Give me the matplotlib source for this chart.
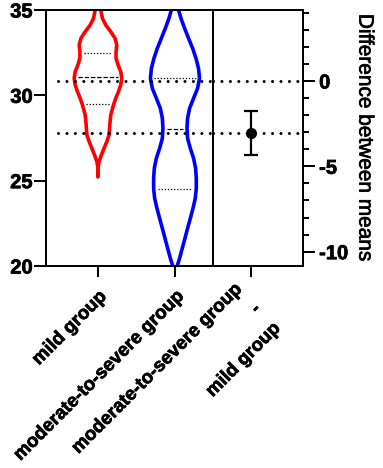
import numpy as np
import matplotlib.pyplot as plt
import matplotlib.patheffects as pe
from matplotlib.ticker import MultipleLocator

plt.rcParams['font.family'] = ['Liberation Sans', 'DejaVu Sans']
plt.rcParams['font.weight'] = 'bold'
plt.rcParams['font.size'] = 14.5
plt.rcParams['axes.unicode_minus'] = False

groups = ['mild group', 'moderate-to-severe group']
diff_label = 'moderate-to-severe group\n-\nmild group'
colors = ['#ff0000', '#0000ff']

# violin outlines: value and half width (category units)
mild_y = [35.00, 34.51, 34.12, 33.73, 33.34, 32.95, 32.56, 32.17, 31.78, 31.39,
          31.00, 30.61, 30.21, 29.83, 29.43, 28.85, 28.26, 27.68, 27.28, 26.90,
          26.51, 26.11, 25.73, 25.23]
mild_half = [0.036, 0.058, 0.101, 0.166, 0.222, 0.244, 0.235, 0.235, 0.261, 0.296,
             0.309, 0.296, 0.266, 0.231, 0.201, 0.166, 0.153, 0.144, 0.114, 0.079,
             0.045, 0.014, 0.0, 0.0]
mod_y = [35.00, 34.51, 33.93, 33.34, 32.76, 32.17, 31.58, 31.00, 30.41, 29.83,
         29.24, 28.66, 28.07, 27.48, 26.90, 26.31, 25.73, 25.14, 24.55, 23.97,
         23.38, 22.79, 22.21, 21.63, 21.04, 20.45, 19.96]
mod_half = [0.047, 0.078, 0.125, 0.177, 0.229, 0.273, 0.306, 0.319, 0.294, 0.242,
            0.190, 0.164, 0.156, 0.164, 0.199, 0.242, 0.268, 0.277, 0.277, 0.264,
            0.234, 0.199, 0.164, 0.130, 0.095, 0.060, 0.026]

# quartiles (25th, median, 75th)
mild_quart = [29.5, 31.05, 32.46]
mod_quart = [24.5, 28.03, 31.04]

# group means and difference with 95% CI
means = [30.84, 27.78]
diff = means[1] - means[0]
ci_low = -4.35
ci_high = -1.77

ylim = (20, 35)

heavy = [pe.withStroke(linewidth=0.5, foreground='black')]

fig = plt.figure(figsize=(3.83, 4.68), dpi=100)
ax1 = fig.add_axes([46 / 383, 202 / 468, 167 / 383, 256 / 468])
ax2 = fig.add_axes([213 / 383, 202 / 468, 90 / 383, 256 / 468])
ax2.patch.set_visible(False)

violins = [(mild_y, mild_half, mild_quart), (mod_y, mod_half, mod_quart)]
for i, (vy, vh, vq) in enumerate(violins):
    vy = np.array(vy)
    vh = np.array(vh)
    ax1.plot(i - vh, vy, color=colors[i], lw=2.6, solid_capstyle='round', solid_joinstyle='round')
    ax1.plot(i + vh, vy, color=colors[i], lw=2.6, solid_capstyle='round', solid_joinstyle='round')
    for k, q in enumerate(vq):
        w = np.interp(q, vy[::-1], vh[::-1]) - 0.05
        style = (0, (3.5, 1.5)) if k == 1 else (0, (1, 1.5))
        ax1.plot([i - w, i + w], [q, q], color='black', lw=0.9, linestyle=style)

dots = (0, (0.01, 2.75))
for m in means:
    ax1.plot([-0.517, 1.6], [m, m], color='black', lw=2.2, linestyle=dots,
             dash_capstyle='round', clip_on=True)
    ax2.axhline(m - means[0], color='black', lw=2.2, linestyle=dots, dash_capstyle='round')

ax2.errorbar([0], [diff], yerr=[[diff - ci_low], [ci_high - diff]], fmt='o',
             color='black', ms=7, elinewidth=1.6, capsize=5, capthick=1.6)

ax1.set_xlim(-0.675, 1.494)
ax1.set_ylim(*ylim)
ax1.set_yticks([20, 25, 30, 35])
ax1.set_xticks([0, 1])
ax1.set_xticklabels(groups, rotation=45, ha='right', va='top', rotation_mode='anchor',
                    fontsize=13.5)
ax1.tick_params(axis='y', length=8.6, width=1.44, pad=1)
ax1.tick_params(axis='x', length=8, width=1.44, pad=8)

ax2.set_xlim(-0.494, 0.675)
ax2.set_ylim(ylim[0] - means[0], ylim[1] - means[0])
ax2.set_xticks([0])
ax2.set_xticklabels([''])
lab = ax2.annotate(diff_label, xy=(0, 0), xycoords=('data', 'axes fraction'),
                   xytext=(-13, -11), textcoords='offset points', rotation=45,
                   rotation_mode='anchor', ha='right', va='top', multialignment='right',
                   linespacing=1.8, fontsize=13.5)
lab.set_path_effects(heavy)
ax2.yaxis.tick_right()
ax2.yaxis.set_label_position('right')
ax2.yaxis.set_major_locator(MultipleLocator(5))
ax2.yaxis.set_minor_locator(MultipleLocator(1))
ax2.tick_params(axis='y', which='major', length=8.6, width=1.44, pad=3)
ax2.tick_params(axis='y', which='minor', length=4.3, width=1.44)
ax2.tick_params(axis='x', length=8, width=1.44)
ax2.set_ylabel('Difference between means', rotation=270, labelpad=19, fontsize=15,
               path_effects=heavy)
ax2.spines['left'].set_visible(False)

for ax in (ax1, ax2):
    for s in ax.spines.values():
        s.set_linewidth(1.44)
    for t in ax.get_xticklabels() + ax.get_yticklabels():
        t.set_path_effects(heavy)

fig.savefig('out.png', dpi=100)
